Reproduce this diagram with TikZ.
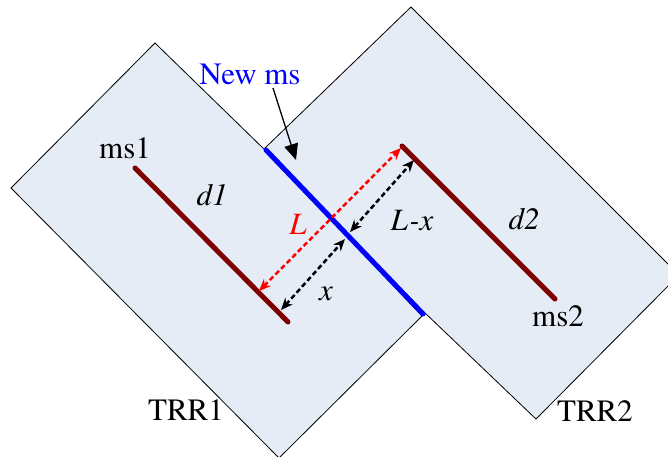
\documentclass[tikz,border=0pt]{standalone}
\usepackage{fontspec}
\setmainfont{texgyretermes}[Extension=.otf,UprightFont=*-regular,ItalicFont=*-italic,BoldFont=*-bold,BoldItalicFont=*-bolditalic]
\usetikzlibrary{arrows.meta}
\definecolor{trrfill}{RGB}{230,236,246}
\definecolor{msred}{RGB}{127,0,0}
\begin{document}
\begin{tikzpicture}[x=1pt,y=-1pt,
  trr/.style={draw=black,line width=0.8pt,fill=trrfill,line join=miter},
  segline/.style={line width=5pt,line cap=round},
  dimarrow/.style={line width=2.5pt,dash pattern=on 5pt off 3pt,
    {Stealth[length=12pt,width=10pt]}-{Stealth[length=12pt,width=10pt]}},
  lbl/.style={font=\rmfamily\fontsize{31}{37}\selectfont,inner sep=0pt}]
\useasboundingbox (0,0) rectangle (668,456);
% rectangles
\coordinate (t2a) at (411,7);
\coordinate (t2b) at (679,275);
\coordinate (t2c) at (536,419);
\coordinate (t2k) at (424,312);
\coordinate (t2d) at (265,148);
\coordinate (t1a) at (155,43);
\coordinate (t1k) at (266,151);
\coordinate (t1b) at (422,316);
\coordinate (t1c) at (279,458);
\coordinate (t1d) at (11,188);
\draw[trr] (t2a) -- (t2b) -- (t2c) -- (t2k) -- (t2d) -- cycle;
\draw[trr] (t1a) -- (t1k) -- (t1b) -- (t1c) -- (t1d) -- cycle;
% segments
\coordinate (m1s) at (135,168);
\coordinate (m1e) at (288,322);
\coordinate (m2s) at (402,146);
\coordinate (m2e) at (555,299);
\coordinate (nms) at (266,150);
\coordinate (nme) at (423,314);
\draw[segline,msred] (m1s) -- (m1e);
\draw[segline,msred] (m2s) -- (m2e);
\draw[segline,blue] (nms) -- (nme);
% dimension arrows
\coordinate (ra) at (259,291);
\coordinate (rb) at (401,148);
\coordinate (xa) at (281,310);
\coordinate (xb) at (345,239);
\coordinate (lxa) at (350,232);
\coordinate (lxb) at (414,160);
\draw[dimarrow,red] (ra) -- (rb);
\draw[dimarrow,black] (xa) -- (xb);
\draw[dimarrow,black] (lxa) -- (lxb);
% labels
\node[lbl,blue] (newms) at (250,74) {New ms};
\coordinate (nmtip) at (296,160);
\coordinate (nmtail) at (273,88);
\draw[line width=1.3pt,-{Triangle[length=16pt,width=14pt]}] (nmtail) -- (nmtip);
\node[lbl] (ms1) at (125,148) {ms1};
\node[lbl] (ms2) at (558,316) {ms2};
\node[lbl] (d1) at (212,195) {\itshape d1};
\node[lbl] (d2) at (524,219) {\itshape d2};
\node[lbl,red] (L) at (298,224) {\itshape L};
\node[lbl] (Lx) at (412,221) {\itshape L-x};
\node[lbl] (x) at (326,294) {\itshape x};
\node[lbl] (trr1) at (186,410) {TRR1};
\node[lbl] (trr2) at (595,411) {TRR2};
\end{tikzpicture}
\end{document}
